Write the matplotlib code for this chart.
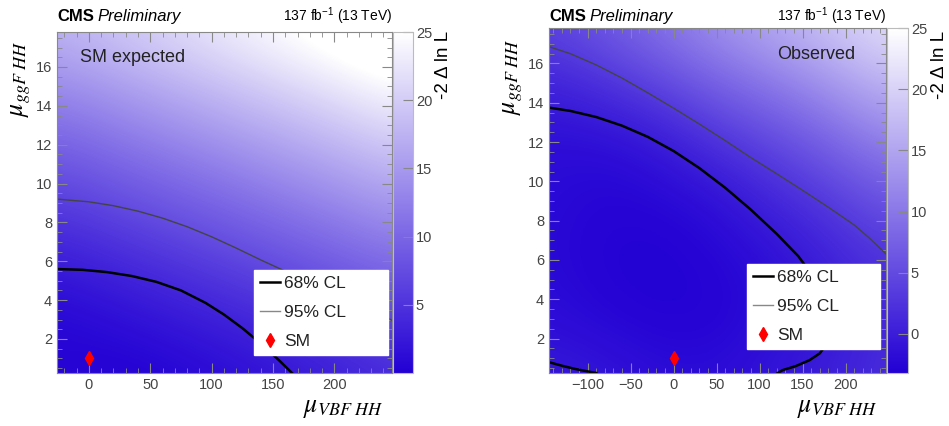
import numpy as np
import matplotlib
matplotlib.use('Agg')
import matplotlib.pyplot as plt
from matplotlib.colors import LinearSegmentedColormap
from matplotlib.lines import Line2D
from matplotlib.ticker import MultipleLocator

plt.rcParams['font.family'] = ['Liberation Sans', 'DejaVu Sans']

exp_x = [-26, 19.5, 65, 110.5, 156, 201.5, 247]
exp_y = [0.25, 3.175, 6.1, 9.025, 11.95, 14.875, 17.8]
exp_nll = [
    [0.58, 0.04, 0.34, 1.03, 1.91, 2.92, 4.11],
    [0.52, 1.30, 2.22, 3.27, 4.44, 5.70, 7.10],
    [2.75, 3.89, 5.10, 6.39, 7.78, 9.23, 10.8],
    [5.76, 7.14, 8.55, 10.0, 11.6, 13.2, 15.0],
    [9.32, 10.9, 12.5, 14.1, 15.8, 17.6, 19.5],
    [13.3, 15.0, 16.8, 18.6, 20.4, 22.3, 24.4],
    [17.4, 19.3, 21.1, 23.0, 25.0, 27.0, 29.2],
]
exp_68_x = [-26.2, -5, 15, 35, 55, 75, 95, 110, 125, 140, 155, 165.5]
exp_68_y = [5.60, 5.56, 5.44, 5.24, 4.94, 4.50, 3.86, 3.26, 2.56, 1.77, 0.90, 0.25]
exp_95_x = [-26.2, 0, 20, 40, 60, 80, 100, 120, 140, 160, 180, 200, 224, 248]
exp_95_y = [9.20, 9.06, 8.86, 8.58, 8.22, 7.78, 7.26, 6.68, 6.07, 5.49, 4.93, 4.37, 3.67, 2.93]

# ---- observed scan ----
obs_x = [-145, -79.7, -14.3, 51, 116.3, 181.7, 247]
obs_y = [0.25, 3.175, 6.1, 9.025, 11.95, 14.875, 17.8]
obs_nll = [
    [-0.6, -1.0, -1.8, -1.9, -1.0, 0.2, 1.8],
    [-1.8, -2.5, -3.0, -2.9, -1.8, -0.9, 1.5],
    [-2.2, -3.0, -3.2, -2.6, -1.7, 0.5, 2.6],
    [-2.1, -2.7, -2.5, -1.6, 0.8, 3.0, 6.0],
    [-1.9, -1.9, -0.6, 2.0, 4.5, 7.5, 11.0],
    [0.3, 1.9, 4.2, 7.3, 10.0, 13.0, 16.5],
    [4.2, 6.5, 9.5, 12.8, 15.5, 18.5, 21.5],
]
obs_68_x = [-145, -120, -90, -60, -30, 0, 30, 60, 90, 120, 145, 160, 172, 180, 182,
            179, 170, 158, 142, 127, 121]
obs_68_y = [13.75, 13.58, 13.27, 12.83, 12.26, 11.54, 10.67, 9.67, 8.55, 7.32, 6.19, 5.3,
            4.3, 3.2, 2.5, 1.8, 1.25, 0.9, 0.6, 0.4, 0.25]
obs_68b_x = [-145, -130, -115, -100, -90]
obs_68b_y = [0.8, 0.62, 0.46, 0.33, 0.25]
obs_95_x = [-145, -120, -90, -60, -30, 0, 30, 60, 90, 120, 150, 180, 210, 228, 247]
obs_95_y = [16.85, 16.49, 15.92, 15.25, 14.50, 13.72, 12.91, 12.07, 11.20, 10.38, 9.54,
            8.68, 7.78, 7.1, 6.3]

sm_point = (0, 1)

W, H = 949, 426
fig = plt.figure(figsize=(W / 100, H / 100), dpi=100)

cmap = LinearSegmentedColormap.from_list('bw', ['#2200d4', '#ffffff'])
tick_col = '#444444'
frame_col = '#888888'


def px_box(x0, y0, x1, y1):
    return [x0 / W, 1 - y1 / H, (x1 - x0) / W, (y1 - y0) / H]


def panel(ax_box, cax_box, xs, ys, z, vmin, vmax, cticks, lines, tag, tag_pos, tag_ha, leg_box):
    ax = fig.add_axes(px_box(*ax_box))
    cax = fig.add_axes(px_box(*cax_box))
    dx = xs[1] - xs[0]
    dy = ys[1] - ys[0]
    im = ax.imshow(np.array(z), origin='lower', aspect='auto', cmap=cmap,
                   vmin=vmin, vmax=vmax, interpolation='bicubic',
                   extent=[xs[0] - dx / 2, xs[-1] + dx / 2, ys[0] - dy / 2, ys[-1] + dy / 2])
    for lx, ly, col, lw in lines:
        ax.plot(lx, ly, color=col, lw=lw, solid_joinstyle='round')
    ax.plot(*sm_point, marker='d', color='red', ms=7, ls='none')
    ax.set_xlim(xs[0], xs[-1])
    ax.set_ylim(ys[0], ys[-1])
    ax.xaxis.set_major_locator(MultipleLocator(50))
    ax.xaxis.set_minor_locator(MultipleLocator(10))
    ax.yaxis.set_major_locator(MultipleLocator(2))
    ax.yaxis.set_minor_locator(MultipleLocator(0.5))
    ax.tick_params(which='both', direction='in', top=True, right=True,
                   color=frame_col, labelcolor=tick_col, labelsize=10.5)
    ax.tick_params(which='major', length=7)
    ax.tick_params(which='minor', length=3.5)
    for s in ax.spines.values():
        s.set_color(frame_col)
    ax.text(tag_pos[0], tag_pos[1], tag, transform=ax.transAxes, ha=tag_ha,
            va='center', fontsize=13, color='#222222')

    cb = fig.colorbar(im, cax=cax, ticks=cticks)
    cb.outline.set_edgecolor('#bbbbbb')
    cax.tick_params(direction='in', length=7, color=frame_col,
                    labelcolor=tick_col, labelsize=10.5, pad=2)

    handles = [Line2D([], [], color='black', lw=1.8),
               Line2D([], [], color='#888888', lw=1.0),
               Line2D([], [], color='red', marker='d', ls='none', ms=7)]
    x0, y0, x1, y1 = leg_box
    bx = ((x0 - ax_box[0]) / (ax_box[2] - ax_box[0]), (ax_box[3] - y1) / (ax_box[3] - ax_box[1]),
          (x1 - x0) / (ax_box[2] - ax_box[0]), (y1 - y0) / (ax_box[3] - ax_box[1]))
    leg = ax.legend(handles, ['68% CL', '95% CL', 'SM'], loc='upper left',
                    bbox_to_anchor=bx, mode='expand', fontsize=12.5,
                    frameon=True, fancybox=False, framealpha=1, edgecolor='white',
                    borderaxespad=0, handlelength=1.15, labelspacing=0.78,
                    handletextpad=0.25, borderpad=0.35)
    for t in leg.get_texts():
        t.set_color('#222222')
    return ax


panel((57, 32, 392, 373), (393, 32, 413, 373), exp_x, exp_y, exp_nll, 0, 25,
      [5, 10, 15, 20, 25],
      [(exp_95_x, exp_95_y, '#444444', 1.0), (exp_68_x, exp_68_y, 'black', 1.8)],
      'SM expected', (0.069, 0.924), 'left', (254, 270, 388, 353))

panel((549, 28, 886, 373), (887, 28, 908, 373), obs_x, obs_y, obs_nll, -3.2, 25,
      [0, 5, 10, 15, 20, 25],
      [(obs_95_x, obs_95_y, '#444444', 1.0), (obs_68_x, obs_68_y, 'black', 1.8),
       (obs_68b_x, obs_68b_y, 'black', 1.8)],
      'Observed', (0.908, 0.922), 'right', (747, 264, 880, 353))

# headers and axis titles placed in figure pixels
for xl, xr, top, cbx, ylx, yl_top in [(57, 392, 21, 443, 21, 40), (549, 886, 21, 940, 513, 38)]:
    t = fig.text(xl / W, 1 - top / H, 'CMS', fontsize=12, fontweight='bold', va='baseline')
    fig.canvas.draw()
    bb = t.get_window_extent()
    fig.text((bb.x1 + 4) / W, 1 - top / H, 'Preliminary', fontsize=12, style='italic', va='baseline')
    fig.text(xr / W, 1 - top / H, r'137 fb$^{\mathregular{-1}}$ (13 TeV)', fontsize=10,
             ha='right', va='baseline')
    fig.text(cbx / W, 1 - 31 / H, '-2 Δ ln L', fontsize=13.5, rotation=90, ha='center', va='top')
    fig.text(ylx / W, 1 - yl_top / H, r'$\mu_{ggF\ HH}$', fontsize=18.5, rotation=90,
             ha='center', va='top', math_fontfamily='stix')
    fig.text((xr - 8) / W, 1 - 408 / H, r'$\mu_{VBF\ HH}$', fontsize=18.5, ha='right',
             va='center', math_fontfamily='stix')

fig.savefig('out.png', dpi=100)
